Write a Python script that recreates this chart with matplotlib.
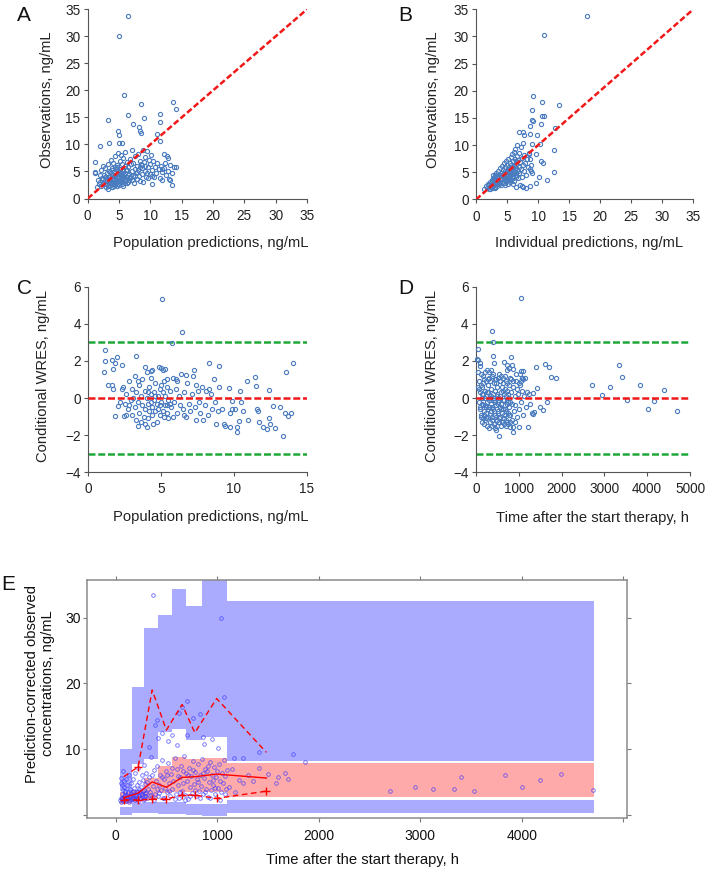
import matplotlib
matplotlib.use('Agg')
import matplotlib.pyplot as plt
import numpy as np

plt.rcParams['font.family'] = ['Liberation Sans', 'DejaVu Sans']

# ---------------- data ----------------
# Panel A: population prediction vs observation
panel_a_pred_obs = [
    (6.5, 33.7), (5.0, 30.0), (5.8, 19.1), (3.3, 14.5), (6.5, 15.4), (8.45, 17.4), (9.0, 14.9),
    (7.3, 13.7), (8.2, 13.2), (8.4, 12.5), (8.45, 12.1), (4.9, 12.4), (5.05, 11.8), (11.0, 11.9),
    (11.5, 15.6), (11.6, 14.1), (13.6, 17.9), (14.1, 16.6), (11.6, 10.6), (2.0, 9.8), (3.35, 10.3),
    (5.0, 10.3), (5.4, 10.2), (1.17, 6.7), (1.17, 4.9), (13.5, 2.5), (10.3, 2.7), (12.9, 3.6),
    (11.9, 3.5), (12.1, 8.3), (12.6, 7.8), (12.8, 7.4), (13.2, 6.2), (13.8, 5.8), (14.1, 5.8),
    (3.2, 1.7),
    (1.2, 4.8), (1.5, 2.1), (1.6, 3.5), (1.8, 2.6), (1.9, 4.3), (2.0, 3.0), (2.1, 5.2), (2.2, 2.4),
    (2.3, 3.8), (2.4, 6.1), (2.5, 2.9), (2.6, 4.4), (2.7, 3.3), (2.8, 5.6), (2.9, 2.2), (3.0, 3.9),
    (3.0, 2.7), (3.1, 4.7), (3.2, 6.3), (3.3, 3.1), (3.3, 2.3), (3.4, 5.1), (3.5, 3.6), (3.5, 2.5),
    (3.6, 4.2), (3.7, 7.2), (3.7, 2.9), (3.8, 3.4), (3.8, 5.7), (3.9, 2.1), (3.9, 4.6), (4.0, 3.0),
    (4.0, 6.6), (4.1, 2.6), (4.1, 3.8), (4.2, 4.9), (4.2, 2.3), (4.3, 3.3), (4.3, 7.8), (4.4, 2.8),
    (4.4, 4.1), (4.5, 5.4), (4.5, 3.5), (4.6, 2.4), (4.6, 6.2), (4.7, 3.1), (4.7, 4.5), (4.8, 2.7),
    (4.8, 8.4), (4.9, 3.7), (4.9, 5.0), (5.0, 2.5), (5.0, 4.2), (5.1, 3.2), (5.1, 6.9), (5.2, 2.9),
    (5.2, 5.5), (5.3, 3.9), (5.3, 8.0), (5.4, 2.6), (5.4, 4.7), (5.5, 3.4), (5.5, 6.4), (5.6, 2.3),
    (5.6, 5.1), (5.7, 3.8), (5.7, 7.5), (5.8, 4.4), (5.9, 2.8), (5.9, 6.0), (6.0, 3.5), (6.0, 8.6),
    (6.1, 5.3), (6.2, 4.0), (6.3, 6.8), (6.4, 3.1), (6.5, 5.8), (6.6, 4.6), (6.7, 7.3), (6.8, 3.7),
    (6.9, 6.3), (7.0, 5.0), (7.1, 8.9), (7.2, 4.2), (7.3, 6.6), (7.4, 2.9), (7.5, 5.5), (7.6, 7.9),
    (7.7, 4.8), (7.8, 3.6), (7.9, 6.1), (8.0, 8.2), (8.1, 5.2), (8.2, 4.1), (8.3, 7.0), (8.4, 3.3),
    (8.5, 6.4), (8.6, 5.7), (8.7, 4.5), (8.8, 9.0), (8.9, 3.0), (9.0, 6.8), (9.1, 5.1), (9.2, 7.6),
    (9.3, 4.0), (9.5, 8.7), (9.6, 5.9), (9.7, 3.8), (9.8, 7.2), (9.9, 4.6), (10.0, 6.3), (10.1, 8.1),
    (10.2, 5.3), (10.3, 4.2), (10.5, 7.0), (10.7, 5.8), (10.9, 4.8), (11.1, 6.6), (11.3, 5.4),
    (11.5, 3.8), (11.7, 6.1), (11.9, 4.9), (12.2, 5.7), (12.5, 4.4), (12.8, 5.1), (13.1, 3.4),
    (13.4, 4.7),
    (2.5, 3.6), (2.8, 4.0), (3.1, 3.5), (3.4, 2.8), (3.6, 3.0), (3.8, 2.2), (4.0, 4.4), (4.2, 3.6),
    (4.4, 3.0), (4.6, 3.9), (4.8, 4.8), (5.0, 3.4), (5.2, 4.5), (5.4, 3.0), (5.6, 4.0), (5.8, 3.2),
    (6.0, 4.8), (6.2, 2.9), (6.4, 4.3), (6.6, 3.4), (3.2, 4.0), (3.5, 4.9), (3.9, 5.3), (4.3, 5.8),
    (4.7, 5.9), (5.1, 4.9), (5.5, 4.3), (5.9, 3.6), (6.3, 5.2), (6.7, 4.0), (7.1, 3.4), (7.5, 4.1),
    (7.9, 4.9), (8.3, 5.9), (8.7, 6.2), (9.1, 6.0), (9.5, 4.8), (10.6, 3.9), (11.8, 5.5), (12.3, 6.5),
]

# Panel B: individual prediction vs observation
panel_b_ipred_obs = [
    (17.8, 33.7), (11.0, 30.2), (9.2, 19.0), (10.6, 17.9), (13.4, 17.3), (9.1, 16.5), (10.7, 15.4),
    (10.9, 15.4), (9.0, 14.7), (9.2, 14.4), (10.5, 13.9), (8.7, 13.6), (12.7, 13.2), (6.9, 12.4),
    (7.6, 12.4), (7.8, 11.8), (8.7, 12.1), (9.8, 11.8), (7.5, 10.4), (9.1, 10.2), (10.3, 10.2),
    (12.5, 9.1), (9.7, 8.3), (8.6, 8.4), (8.7, 7.5), (10.4, 7.0), (10.8, 6.7), (8.7, 5.7),
    (8.9, 5.2), (9.1, 4.8), (10.1, 4.1), (12.6, 5.0), (11.4, 3.5), (9.7, 3.1), (8.7, 2.4),
    (7.4, 2.4), (8.0, 2.1),
    (1.3, 2.0), (1.6, 2.5), (1.8, 2.2), (2.0, 2.8), (2.1, 1.9), (2.2, 3.3), (2.3, 2.4), (2.4, 2.9),
    (2.5, 3.6), (2.6, 2.1), (2.7, 3.1), (2.8, 4.0), (2.9, 2.6), (3.0, 3.4), (3.0, 4.5), (3.1, 2.3),
    (3.2, 3.8), (3.2, 2.8), (3.3, 4.9), (3.4, 3.2), (3.4, 2.5), (3.5, 4.2), (3.6, 3.6), (3.6, 5.3),
    (3.7, 2.9), (3.8, 4.6), (3.8, 3.3), (3.9, 5.8), (4.0, 4.0), (4.0, 2.7), (4.1, 4.9), (4.1, 3.5),
    (4.2, 6.2), (4.3, 4.4), (4.3, 3.0), (4.4, 5.4), (4.5, 3.8), (4.5, 6.8), (4.6, 4.8), (4.6, 2.6),
    (4.7, 5.9), (4.7, 4.1), (4.8, 3.4), (4.8, 7.1), (4.9, 5.1), (4.9, 4.5), (5.0, 6.4), (5.0, 3.7),
    (5.1, 5.6), (5.1, 2.9), (5.2, 4.7), (5.2, 7.4), (5.3, 6.0), (5.3, 4.0), (5.4, 5.2), (5.4, 3.2),
    (5.5, 6.7), (5.5, 4.4), (5.6, 7.9), (5.6, 5.7), (5.7, 3.6), (5.7, 6.3), (5.8, 4.9), (5.8, 8.3),
    (5.9, 5.5), (5.9, 2.8), (6.0, 7.0), (6.0, 4.3), (6.1, 6.1), (6.1, 8.8), (6.2, 5.0), (6.2, 3.4),
    (6.3, 7.5), (6.3, 9.3), (6.4, 5.8), (6.4, 2.3), (6.5, 6.6), (6.5, 4.6), (6.6, 8.0), (6.6, 10.0),
    (6.7, 5.3), (6.8, 7.2), (6.8, 3.9), (6.9, 6.0), (7.0, 8.5), (7.0, 4.9), (7.1, 2.6), (7.1, 6.9),
    (7.2, 9.6), (7.3, 5.6), (7.4, 7.7), (7.4, 4.2), (7.5, 6.4), (7.6, 2.3), (7.7, 5.2), (7.8, 8.1),
    (7.9, 6.8), (8.0, 4.6), (8.2, 7.4), (8.4, 5.9), (8.6, 8.6), (8.8, 6.3),
    (3.3, 3.6), (3.5, 2.9), (3.7, 4.1), (3.9, 3.0), (4.1, 4.3), (4.2, 3.3), (4.4, 4.6), (4.5, 3.1),
    (4.6, 5.2), (4.7, 3.6), (4.9, 4.0), (5.0, 5.0), (5.1, 4.3), (5.2, 3.5), (5.3, 5.5), (5.4, 4.7),
    (5.5, 3.8), (5.6, 5.0), (5.7, 4.5), (5.8, 6.0), (5.9, 4.0), (6.0, 5.4), (6.1, 4.7), (6.2, 6.4),
    (6.3, 5.1), (6.4, 4.1), (6.5, 7.0), (6.6, 5.5), (2.6, 3.4), (2.9, 3.7), (3.1, 4.1), (3.4, 4.4),
    (2.4, 2.3), (2.8, 2.5), (3.0, 2.1), (1.9, 2.6), (2.2, 2.0), (2.7, 4.6),
]

# Panel C: population prediction vs CWRES
panel_c_pred_cwres = [
    (5.08, 5.33), (6.43, 3.57), (5.72, 2.98), (1.14, 2.58), (3.27, 2.26), (1.95, 2.19), (1.14, 1.99),
    (1.6, 2.04), (1.83, 1.9), (8.31, 1.9), (9.0, 1.72), (1.1, 1.4), (1.67, 1.58), (2.29, 1.78),
    (14.04, 1.9), (13.58, 1.42), (11.47, 1.15), (10.92, 0.93), (11.53, 0.66), (12.4, 0.43),
    (10.44, 0.39), (9.64, 0.54), (12.7, -0.41), (13.16, -0.5), (13.5, -0.83), (13.7, -0.97),
    (13.9, -0.83), (12.43, -1.06), (12.8, -1.6), (13.4, -2.03), (12.5, -1.4), (12.0, -1.58),
    (12.25, -1.69), (10.2, -1.81), (10.2, -1.54), (9.73, -1.54), (9.3, -1.42), (8.8, -1.4),
    (10.37, -1.24), (11.0, -1.18), (11.75, -1.27), (10.65, -0.7), (10.08, -0.59), (11.56, -0.61),
    (11.68, -0.7), (9.85, -0.16), (4.47, -1.42), (3.43, -1.49), (4.0, -1.54), (1.83, -0.95),
    (2.47, -0.95), (2.06, -0.41), (1.67, 0.47), (1.37, 0.7), (1.6, 0.7), (7.28, 1.51), (6.7, 1.24),
    (5.15, 1.51), (5.3, 1.56), (4.88, 1.65), (4.3, 1.45), (3.9, 1.65), (5.38, 1.0), (6.0, 1.0),
    (2.4, 0.6), (2.5, -0.3), (2.6, 0.2), (2.7, -0.6), (2.8, 0.9), (2.9, -0.1), (3.0, 0.5), (3.0, -0.9),
    (3.1, 0.0), (3.2, -0.5), (3.2, 1.2), (3.3, 0.3), (3.3, -1.2), (3.4, -0.2), (3.5, 0.7), (3.5, -0.8),
    (3.6, 0.1), (3.7, -0.4), (3.7, 1.0), (3.8, -1.0), (3.9, 0.4), (3.9, -0.6), (4.0, 0.0), (4.0, 1.4),
    (4.1, -0.3), (4.1, -1.1), (4.2, 0.6), (4.2, -0.7), (4.3, 0.2), (4.3, 1.1), (4.4, -0.5), (4.4, -0.9),
    (4.5, 0.3), (4.5, -0.1), (4.6, -0.7), (4.6, 0.8), (4.7, -0.3), (4.7, -1.3), (4.8, 0.1), (4.8, -0.6),
    (4.9, 0.5), (4.9, -0.9), (5.0, -0.2), (5.0, 1.6), (5.1, -0.7), (5.1, 0.3), (5.2, -1.0), (5.2, 0.9),
    (5.3, -0.4), (5.3, 0.1), (5.4, -0.8), (5.4, 0.6), (5.5, -0.1), (5.5, -1.1), (5.6, 0.4), (5.7, -0.5),
    (5.8, 1.1), (5.9, -0.2), (6.0, 0.5), (6.1, -0.8), (6.2, 0.1), (6.3, -0.4), (6.4, 1.3), (6.5, -0.6),
    (6.6, 0.3), (6.7, -1.0), (6.8, 0.8), (6.9, -0.3), (7.0, -0.7), (7.1, 0.2), (7.2, 1.2), (7.3, -0.5),
    (7.4, -1.2), (7.5, 0.4), (7.6, -0.2), (7.7, -0.8), (7.8, 0.6), (7.9, -1.2), (8.0, -0.4), (8.1, 0.4),
    (8.2, -0.9), (8.4, 0.2), (8.5, -0.6), (8.6, 1.0), (8.7, -0.2), (8.9, -0.7), (9.0, 0.6), (9.2, -0.6),
    (9.4, -1.5), (9.7, -0.8), (9.9, -0.6), (10.5, -0.2), (3.6, -1.3), (4.4, 1.5), (4.1, 0.3), (4.6, 0.1),
    (5.0, 0.7), (5.4, -0.4), (3.4, 0.9), (2.8, -0.4), (2.3, 0.5), (2.2, -0.2), (2.6, -0.9), (3.9, -1.4),
    (5.8, -1.0), (6.6, -0.9), (7.4, 0.7), (8.3, 0.5), (4.9, -0.4), (4.3, -0.2), (5.6, -0.3), (6.1, 0.9),
]

# Panel D: time vs CWRES
panel_d_time_cwres = [
    (1044, 5.36), (374, 3.6), (389, 3.0), (55, 2.62), (16, 2.08), (55, 2.04), (93, 1.9), (405, 2.28),
    (420, 1.9), (810, 2.19), (833, 1.78), (654, 1.95), (732, 1.78), (779, 1.63), (857, 1.56),
    (1051, 1.45), (1090, 1.45), (1083, 1.09), (1145, 1.09), (1402, 1.69), (1612, 1.81), (1706, 1.65),
    (1745, 1.15), (1869, 1.06), (2710, 0.7), (3123, 0.59), (2952, 0.18), (3333, 1.79), (3403, 1.11),
    (3520, -0.11), (3840, 0.7), (4011, -0.57), (4167, -0.14), (4385, 0.43), (4704, -0.72),
    (1417, 0.56), (1324, 0.25), (1246, 0.22), (1667, -0.2), (1573, -0.65), (1495, -0.47),
    (1363, -0.77), (1324, -0.86), (1223, -1.54), (1012, -1.58), (872, -1.81), (857, -1.54),
    (794, -1.58), (545, -2.03), (460, -1.72),
    (40, 0.6), (60, -0.2), (80, 0.9), (90, -0.5), (100, 0.3), (110, -0.9), (120, 1.3), (130, 0.0),
    (140, -0.3), (150, 0.6), (160, -1.1), (170, 0.2), (180, -0.7), (190, 1.0), (200, -0.4), (210, 0.4),
    (220, -1.2), (230, 0.1), (240, -0.8), (250, 1.5), (260, -0.2), (270, 0.7), (280, -1.0), (290, 0.3),
    (300, -0.5), (310, 1.1), (320, -1.3), (330, 0.0), (340, -0.7), (350, 0.5), (360, -0.3), (370, 1.2),
    (380, -1.0), (390, 0.2), (400, -0.6), (410, 0.8), (420, -1.4), (430, -0.1), (440, 0.4), (450, -0.9),
    (460, 1.0), (470, -0.4), (480, 0.1), (490, -1.2), (500, 0.6), (510, -0.2), (520, -0.8), (530, 1.3),
    (540, 0.0), (550, -0.5), (560, 0.9), (570, -1.0), (580, 0.3), (590, -0.3), (600, -0.8), (610, 0.6),
    (620, -0.1), (630, 1.1), (640, -0.6), (650, 0.2), (660, -1.1), (670, 0.5), (680, -0.4), (690, 0.9),
    (700, -0.7), (710, 0.1), (720, -1.3), (730, 0.4), (740, -0.2), (750, -0.8), (760, 0.7), (770, 0.0),
    (780, -0.5), (790, 1.1), (800, -0.9), (820, 0.3), (840, -0.3), (860, 0.6), (880, -0.7), (900, 0.1),
    (920, -0.4), (940, 0.9), (960, -1.0), (980, 0.2), (1000, -0.6), (1020, 0.7), (1050, -0.2),
    (1080, 0.4), (1100, -0.9), (1130, 0.1), (1160, -0.5), (1200, 0.3), (1250, -0.3), (1300, -0.8),
    (105, -0.6), (125, -1.0), (145, 0.2), (165, -0.4), (185, -0.9), (205, 0.0), (225, -0.5), (245, -1.1),
    (265, 0.3), (285, -0.6), (305, -0.1), (325, -0.9), (345, 0.1), (365, -0.5), (385, -1.2), (405, 0.0),
    (425, -0.7), (445, -0.2), (465, -1.0), (485, 0.2), (505, -0.7), (525, -0.3), (545, -1.1), (565, 0.1),
    (585, -0.6), (605, -1.3), (625, 0.4), (645, -0.9), (665, -0.1), (685, -0.6), (705, -1.2), (725, -0.3),
    (745, 0.2), (765, -0.9), (785, -0.2), (45, 1.4), (70, 0.5), (95, 1.7), (115, 0.7), (135, -1.3),
    (155, 1.2), (175, 0.8), (195, -1.4), (215, 1.4), (235, 0.9), (255, -1.5), (275, 1.0), (295, 1.4),
    (315, -1.6), (335, 0.9), (355, 1.5), (375, -1.5), (395, 1.3), (415, -1.4), (435, 1.0), (455, -1.6),
    (475, 0.8), (495, -1.5), (515, 1.1), (535, -1.3), (555, 0.9), (575, -1.5), (595, 1.2), (615, -1.3),
    (635, 0.8), (655, -1.4), (675, 1.2), (695, -1.5), (715, 0.8), (735, 1.5), (755, -1.4), (775, 1.6),
    (795, -1.3), (815, 1.0), (845, -1.2), (875, 0.9), (905, -1.3), (935, 1.3), (965, 0.5), (995, 0.8),
    (1025, 1.3), (1055, 0.9), (1090, 1.0),
]

# Panel E: time vs prediction-corrected observations
panel_e_time_pcobs = [
    (370, 33.5), (1040, 30.0), (1070, 17.9), (700, 17.3), (650, 16.4), (625, 15.5), (760, 14.8),
    (830, 15.3), (410, 14.4), (385, 13.6), (460, 12.5), (860, 11.8), (330, 10.3), (600, 10.6),
    (520, 11.2), (560, 12.1), (700, 12.2), (870, 10.8), (950, 11.5), (1010, 10.2), (420, 11.7),
    (1413, 9.6), (1747, 9.2), (1867, 8.0), (1502, 6.2), (1578, 4.9), (1604, 5.8), (1671, 6.3),
    (1702, 5.5), (1413, 7.1), (1302, 6.1), (1213, 5.3), (1169, 8.6), (1258, 8.6), (1150, 7.0),
    (1120, 4.3), (1180, 3.5), (1250, 4.8), (1350, 5.1), (2707, 3.6), (2951, 4.2), (3124, 3.9),
    (3333, 3.9), (3400, 5.7), (3529, 3.6), (3840, 6.0), (4004, 4.3), (4178, 5.3), (4391, 6.2),
    (4707, 3.8),
    (45, 2.3), (50, 4.9), (55, 2.0), (60, 3.1), (65, 2.6), (70, 6.7), (75, 2.2), (80, 4.2), (85, 2.8),
    (90, 2.4), (95, 3.6), (100, 5.4), (105, 2.1), (110, 2.9), (115, 4.6), (120, 2.5), (125, 3.3),
    (130, 2.0), (135, 6.0), (140, 2.7), (145, 3.9), (150, 2.3), (155, 4.8), (160, 3.0), (165, 2.4),
    (170, 5.5), (175, 3.5), (180, 2.6), (185, 4.1), (190, 2.2), (195, 6.4), (200, 3.2), (205, 2.8),
    (210, 4.5), (215, 2.4), (220, 3.7), (225, 7.2), (230, 2.9), (235, 5.0), (240, 3.4), (245, 2.6),
    (250, 4.3), (255, 6.1), (260, 3.1), (265, 2.3), (270, 5.3), (275, 3.8), (280, 7.6), (285, 2.9),
    (290, 4.7), (295, 3.3), (300, 6.3), (310, 2.6), (320, 4.0), (330, 5.7), (340, 3.5), (350, 8.8),
    (360, 2.7), (370, 4.4), (380, 6.8), (390, 3.2), (400, 5.2), (410, 7.4), (420, 2.9), (430, 4.6),
    (440, 6.0), (450, 3.8), (460, 8.4), (470, 2.5), (480, 5.5), (490, 4.1), (500, 6.6), (510, 3.4),
    (520, 7.9), (530, 4.8), (540, 2.8), (550, 6.2), (560, 3.9), (570, 5.1), (580, 8.6), (590, 3.1),
    (600, 6.9), (610, 4.5), (620, 2.6), (630, 5.8), (640, 7.5), (650, 3.7), (660, 4.9), (670, 8.9),
    (680, 3.0), (690, 6.4), (700, 5.2), (710, 2.4), (720, 7.1), (730, 4.2), (740, 5.9), (750, 3.3),
    (760, 8.2), (770, 4.7), (780, 6.5), (790, 2.9), (800, 5.4), (810, 7.7), (820, 3.6), (830, 6.1),
    (840, 4.4), (850, 8.5), (860, 3.2), (870, 5.6), (880, 7.0), (890, 4.0), (900, 6.7), (910, 2.7),
    (920, 5.0), (930, 8.0), (940, 3.8), (950, 6.0), (960, 4.6), (970, 7.3), (980, 3.1), (990, 5.7),
    (1000, 6.6), (1010, 4.1), (1020, 7.8), (1030, 5.2), (1040, 3.5), (1050, 6.3), (1060, 4.8),
    (1070, 8.3), (1080, 5.9), (1090, 3.9), (1100, 6.8),
    (48, 2.6), (58, 2.4), (68, 2.1), (78, 2.7), (88, 3.0), (98, 2.2), (108, 2.6), (118, 3.5), (128, 2.3),
    (138, 2.9), (148, 3.3), (158, 2.5), (168, 3.6), (178, 2.2), (188, 3.0), (198, 2.6), (208, 3.4),
    (218, 2.1), (228, 3.9), (238, 2.5), (248, 3.2), (258, 2.8), (268, 3.6), (278, 2.4), (288, 3.3),
    (298, 2.9), (52, 5.6), (62, 4.5), (72, 3.8), (82, 5.1), (92, 3.4), (350, 3.0), (380, 2.3),
    (430, 3.3), (480, 2.6), (530, 3.6), (580, 2.4), (630, 3.4), (680, 2.3), (730, 2.9), (780, 3.8),
    (830, 2.5), (880, 3.4), (930, 2.6), (980, 4.1), (1030, 2.3), (1080, 3.2), (310, 5.0), (360, 6.0),
    (410, 4.0), (460, 5.7), (510, 6.0), (560, 7.2), (610, 5.9), (660, 6.7), (710, 6.0), (760, 6.8),
    (810, 5.0), (860, 6.3), (910, 7.4), (960, 5.3),
]

# VPC bins (time, h) and simulated confidence intervals
bin_start = [40, 158, 282, 414, 553, 694, 849, 1096]
bin_end = [158, 282, 414, 553, 694, 849, 1096, 4710]
ci95_low = [3.6, 7.7, 8.5, 12.6, 13.0, 11.4, 11.8, 8.2]
ci95_high = [10.0, 19.5, 28.5, 30.4, 34.4, 31.8, 37.0, 32.5]
ci50_low = [1.6, 2.1, 2.4, 3.3, 3.5, 3.5, 3.4, 2.75]
ci50_high = [3.4, 3.8, 5.6, 7.4, 8.8, 8.5, 8.6, 7.9]
ci05_low = [-0.1, 0.3, 0.3, 0.2, 0.2, -0.1, -0.2, 0.25]
ci05_high = [1.2, 1.8, 2.0, 2.0, 1.9, 1.7, 1.7, 2.25]

# observed percentiles
obs_time = [80, 222, 360, 500, 655, 780, 995, 1485]
obs_p50 = [2.6, 3.3, 5.0, 4.2, 5.7, 5.8, 6.2, 5.6]
obs_p95 = [5.8, 7.3, 19.0, 12.9, 16.8, 12.5, 17.7, 9.5]
obs_p05 = [2.3, 2.25, 2.35, 2.4, 3.0, 3.0, 2.5, 3.6]

cwres_ref_lines = [-3, 3]
zero_line = [0]

# ---------------- figure ----------------
W, H = 707, 871
fig = plt.figure(figsize=(W / 100, H / 100), dpi=100)


def add_ax(l, t, r, b):
    return fig.add_axes([l / W, 1 - b / H, (r - l) / W, (b - t) / H])


def fxy(px, py):
    return px / W, 1 - py / H


PT_COLOR = '#4a7cc0'
AX_COLOR = '#555555'
LBL = 10.6


def style_simple(ax):
    for s in ['top', 'right']:
        ax.spines[s].set_visible(False)
    for s in ['left', 'bottom']:
        ax.spines[s].set_color(AX_COLOR)
        ax.spines[s].set_linewidth(0.8)
    ax.tick_params(direction='out', length=2.8, width=0.8, color=AX_COLOR,
                   labelsize=9.8, labelcolor='#222222')
    ax.tick_params(axis='x', pad=4.5)
    ax.tick_params(axis='y', pad=2.5)


def set_labels(ax, xl, xpos, yl, ypos):
    ax.set_xlabel(xl, fontsize=LBL, color='#222222')
    ax.xaxis.set_label_coords(*fxy(*xpos), transform=fig.transFigure)
    ax.xaxis.label.set_va('center')
    ax.set_ylabel(yl, fontsize=LBL, color='#222222')
    ax.yaxis.set_label_coords(*fxy(*ypos), transform=fig.transFigure)
    ax.yaxis.label.set_va('center')
    ax.yaxis.label.set_ha('center')


def scatter(ax, pts):
    x, y = zip(*pts)
    ax.plot(x, y, 'o', ms=3.0, mfc='none', mec=PT_COLOR, mew=0.8, clip_on=False, zorder=3)


RED = '#f01818'
GREEN = '#1fa83a'

# Panel A
axA = add_ax(87.7, 9.3, 307, 198.5)
style_simple(axA)
scatter(axA, panel_a_pred_obs)
axA.axline((0, 0), slope=1, color=RED, lw=1.8, ls=(0, (2.4, 1.1)), zorder=4)
axA.set_xlim(0, 35); axA.set_ylim(0, 35)
axA.set_xticks(range(0, 36, 5)); axA.set_yticks(range(0, 36, 5))
set_labels(axA, 'Population predictions, ng/mL', (210.7, 242.7), 'Observations, ng/mL', (46.7, 100))

# Panel B
axB = add_ax(476, 9.3, 693.3, 199.5)
style_simple(axB)
scatter(axB, panel_b_ipred_obs)
axB.axline((0, 0), slope=1, color=RED, lw=1.8, ls=(0, (2.4, 1.1)), zorder=4)
axB.set_xlim(0, 35); axB.set_ylim(0, 35)
axB.set_xticks(range(0, 36, 5)); axB.set_yticks(range(0, 36, 5))
set_labels(axB, 'Individual predictions, ng/mL', (589.2, 242.7), 'Observations, ng/mL', (433.3, 100))

# Panel C
axC = add_ax(88.3, 286.6, 306.7, 472.3)
style_simple(axC)
scatter(axC, panel_c_pred_cwres)
for v in cwres_ref_lines:
    axC.axhline(v, color=GREEN, lw=1.8, ls=(0, (2.8, 1.1)), zorder=2)
for v in zero_line:
    axC.axhline(v, color=RED, lw=1.8, ls=(0, (2.8, 1.1)), zorder=4)
axC.set_xlim(0, 15); axC.set_ylim(-4, 6)
axC.set_xticks(range(0, 16, 5)); axC.set_yticks(range(-4, 7, 2))
set_labels(axC, 'Population predictions, ng/mL', (210.5, 516.7), 'Conditional WRES, ng/mL', (43.3, 376))

# Panel D
axD = add_ax(476, 286.6, 690, 472.3)
style_simple(axD)
scatter(axD, panel_d_time_cwres)
for v in cwres_ref_lines:
    axD.axhline(v, color=GREEN, lw=1.8, ls=(0, (2.8, 1.1)), zorder=2)
for v in zero_line:
    axD.axhline(v, color=RED, lw=1.8, ls=(0, (2.8, 1.1)), zorder=4)
axD.set_xlim(0, 5000); axD.set_ylim(-4, 6)
axD.set_xticks(range(0, 5001, 1000)); axD.set_yticks(range(-4, 7, 2))
set_labels(axD, 'Time after the start therapy, h', (592.5, 518.3), 'Conditional WRES, ng/mL', (431.7, 376))

# Panel E (VPC)
axE = add_ax(86.7, 580, 626.7, 818.3)
BLUE_BAND = '#aaaaff'
PINK_BAND = '#ffaaaa'
starts = np.array(bin_start); widths = np.array(bin_end) - starts
axE.bar(starts, np.array(ci95_high) - np.array(ci95_low), width=widths, bottom=ci95_low,
        align='edge', color=BLUE_BAND, lw=0, zorder=1)
axE.bar(starts, np.array(ci05_high) - np.array(ci05_low), width=widths, bottom=ci05_low,
        align='edge', color=BLUE_BAND, lw=0, zorder=1)
axE.bar(starts, np.array(ci50_high) - np.array(ci50_low), width=widths, bottom=ci50_low,
        align='edge', color=PINK_BAND, lw=0, zorder=1)

ex, ey = zip(*panel_e_time_pcobs)
axE.plot(ex, ey, 'o', ms=2.6, mfc='none', mec='#3a3aff', mew=0.6, alpha=0.75, zorder=3)

# observed percentile lines; '+' where outside simulated CI
p95_out = [i for i, v in enumerate(obs_p95) if v < ci95_low[i] or v > ci95_high[i]]
p05_out = [i for i, v in enumerate(obs_p05) if v < ci05_low[i] or v > ci05_high[i]]
p50_out = [i for i, v in enumerate(obs_p50) if v < ci50_low[i] or v > ci50_high[i]]
axE.plot(obs_time, obs_p50, '-', color='#ff0000', lw=1.0, zorder=4,
         marker='+', ms=6, mew=1.0, markevery=p50_out)
axE.plot(obs_time, obs_p95, color='#ff0000', lw=1.0, ls=(0, (4, 2.6)), zorder=4,
         marker='+', ms=6, mew=1.0, markevery=p95_out)
axE.plot(obs_time, obs_p05, color='#ff0000', lw=1.0, ls=(0, (4, 2.6)), zorder=4,
         marker='+', ms=6, mew=1.0, markevery=p05_out)

axE.set_xlim(-285, 5035)
axE.set_ylim(-0.53, 35.74)
for s in axE.spines.values():
    s.set_color('#8a8a8a'); s.set_linewidth(1.1)
axE.set_xticks(range(0, 5001, 1000))
axE.set_xticklabels(['0', '1000', '2000', '3000', '4000', ''])
axE.set_yticks([0, 10, 20, 30])
axE.set_yticklabels(['', '10', '20', '30'])
axE.tick_params(direction='out', length=3, width=0.8, color='#7a7a7a', labelsize=10,
                labelcolor='#111111', top=True, right=True)
axE.tick_params(axis='x', pad=5)
axE.tick_params(axis='y', pad=1.5)
axE.set_xlabel('Time after the start therapy, h', fontsize=LBL, color='#111111')
axE.xaxis.set_label_coords(*fxy(363, 860), transform=fig.transFigure)
axE.xaxis.label.set_va('center')
axE.set_ylabel('Prediction-corrected observed\nconcentrations, ng/mL', fontsize=LBL,
               color='#111111', linespacing=1.15)
axE.yaxis.set_label_coords(*fxy(40, 683.5), transform=fig.transFigure)
axE.yaxis.label.set_va('center')
axE.yaxis.label.set_ha('center')

# panel letters
for letter, (px, py) in zip(['A', 'B', 'C', 'D', 'E'],
                            [(24, 15.5), (405.5, 15.5), (24, 288), (406, 288), (8, 584)]):
    fig.text(*fxy(px, py), letter, ha='center', va='center', fontsize=15, color='#111111')

fig.savefig('out.png', dpi=100)
